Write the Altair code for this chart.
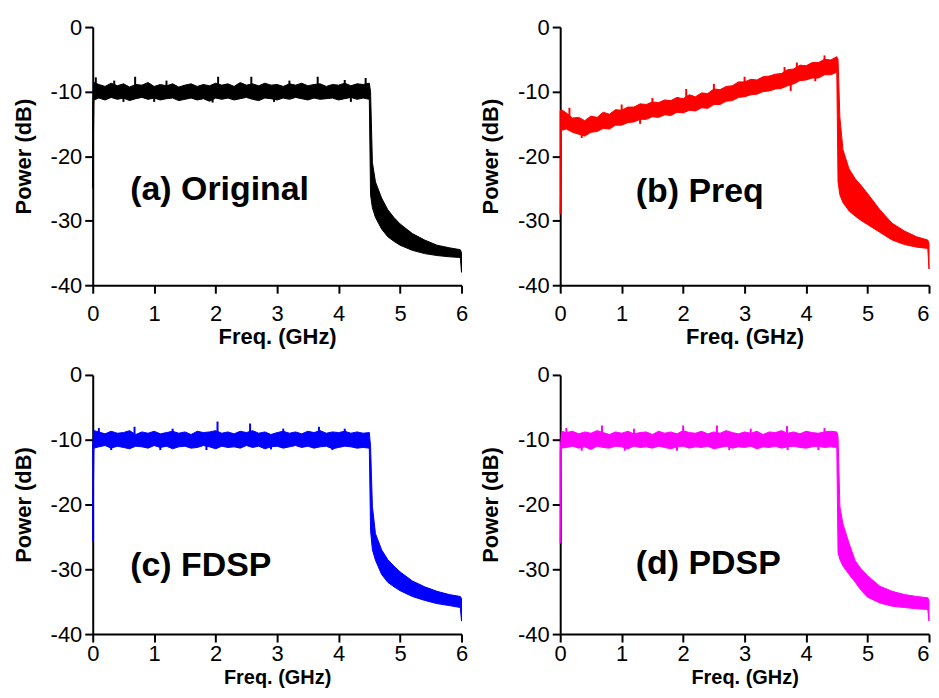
import altair as alt
import pandas as pd

FREQ = [0.0, 0.02,
        0.1, 0.2, 0.3, 0.4, 0.5, 0.6, 0.7, 0.8, 0.9, 1.0,
        1.1, 1.2, 1.3, 1.4, 1.5, 1.6, 1.7, 1.8, 1.9, 2.0,
        2.1, 2.2, 2.3, 2.4, 2.5, 2.6, 2.7, 2.8, 2.9, 3.0,
        3.1, 3.2, 3.3, 3.4, 3.5, 3.6, 3.7, 3.8, 3.9, 4.0,
        4.1, 4.2, 4.3, 4.4,
        4.5, 4.52, 4.55, 4.6, 4.7, 4.8, 4.9, 5.0, 5.2, 5.4, 5.6, 5.8, 5.98, 6.0]

# (a) Original
A_UP = [-12.0, -8.6,
        -8.9, -9.2, -8.7, -9.1, -8.8, -9.3, -8.9, -9.0, -8.6, -9.2,
        -8.9, -9.1, -8.8, -9.3, -9.0, -8.8, -9.2, -8.9, -9.1, -8.7,
        -9.0, -8.8, -9.2, -8.6, -9.0, -8.8, -9.1, -8.7, -9.0, -8.9,
        -9.2, -8.8, -9.0, -8.7, -9.1, -8.9, -8.8, -9.2, -8.9, -9.0,
        -8.7, -9.1, -8.8, -8.9,
        -8.7, -10.0, -21.0, -24.0, -26.5, -28.3, -29.5, -30.5, -32.0, -33.0, -33.8, -34.2, -34.5, -35.0]
A_LO = [-25.0, -11.3,
        -11.0, -11.3, -10.9, -11.2, -11.0, -11.4, -11.1, -10.9, -11.2, -11.0,
        -11.3, -11.1, -11.0, -11.4, -11.2, -11.0, -11.3, -11.1, -11.5, -11.0,
        -11.2, -11.0, -11.3, -11.1, -10.9, -11.2, -11.4, -11.0, -11.1, -11.3,
        -11.0, -11.2, -10.9, -11.1, -11.3, -11.0, -11.2, -11.1, -11.0, -11.3,
        -11.1, -10.9, -11.2, -11.0,
        -11.2, -26.0, -28.0, -29.5, -31.3, -32.5, -33.2, -33.8, -34.6, -35.1, -35.4, -35.6, -35.7, -38.0]
A_SPIKE_F = [0.05, 0.35, 0.69, 1.2, 2.04, 2.58, 3.2, 3.66, 4.1, 4.44, 0.5, 1.0, 1.95, 2.95, 4.2]
A_SPIKE_V = [-7.8, -8.3, -7.7, -8.3, -7.7, -7.7, -8.3, -7.7, -8.2, -7.9, -11.6, -11.6, -11.7, -11.6, -11.6]
A_SPIKE_B = [-10.0, -10.0, -10.0, -10.0, -10.0, -10.0, -10.0, -10.0, -10.0, -10.0, -10.0, -10.0, -10.0, -10.0, -10.0]

# (b) Preq
B_UP = [-13.0, -12.8,
        -13.3, -14.1, -14.0, -14.5, -13.8, -14.0, -13.2, -13.5, -12.8, -12.9,
        -12.4, -12.4, -11.9, -12.0, -11.6, -11.7, -11.3, -11.4, -10.9, -11.1,
        -10.5, -10.8, -10.2, -10.3, -9.6, -9.7, -9.2, -9.1, -8.5, -8.5,
        -8.1, -8.2, -7.7, -7.6, -7.3, -7.2, -6.6, -6.5, -5.9, -6.0,
        -5.5, -5.5, -5.0, -5.1,
        -4.6, -5.0, -14.0, -19.0, -22.0, -23.5, -24.6, -25.8, -28.3, -30.4, -31.6, -32.5, -33.0, -33.5]
B_LO = [-29.0, -16.0,
        -15.8, -16.3, -16.6, -16.9, -16.3, -16.2, -15.7, -15.8, -15.2, -15.2,
        -14.8, -14.7, -14.3, -14.3, -13.9, -14.0, -13.6, -13.7, -13.2, -13.3,
        -12.9, -13.0, -12.5, -12.6, -12.0, -12.0, -11.5, -11.4, -10.9, -10.8,
        -10.5, -10.4, -10.0, -9.9, -9.6, -9.5, -9.1, -8.8, -8.3, -8.2,
        -7.9, -7.9, -7.4, -7.4,
        -7.0, -24.0, -26.0, -27.2, -28.5, -29.3, -30.0, -30.6, -31.8, -33.0, -33.7, -34.1, -34.3, -37.5]
B_SPIKE_F = [0.15, 1.0, 1.5, 2.05, 2.5, 3.0, 3.65, 3.85, 4.3, 0.35, 1.3, 3.75, 4.15]
B_SPIKE_V = [-12.5, -12.0, -11.0, -9.6, -8.8, -7.7, -6.2, -5.5, -4.4, -17.2, -15.0, -9.9, -8.4]
B_SPIKE_B = [-14.6, -14.0, -12.8, -12.0, -10.8, -9.6, -8.2, -7.5, -6.2, -15.3, -13.1, -7.8, -6.7]

# (c) FDSP
C_UP = [-11.0, -8.6,
        -8.8, -9.1, -8.7, -9.0, -8.9, -8.6, -9.2, -8.8, -9.0, -8.7,
        -9.1, -8.9, -8.7, -9.0, -8.8, -9.2, -8.7, -8.9, -8.8, -8.6,
        -9.0, -8.8, -9.1, -8.7, -8.9, -8.6, -9.0, -8.8, -9.2, -8.9,
        -8.7, -9.0, -8.8, -9.1, -8.7, -8.9, -8.6, -9.0, -8.8, -8.9,
        -8.7, -9.0, -8.8, -9.0,
        -8.9, -11.0, -20.3, -24.5, -27.0, -28.5, -29.5, -30.4, -31.8, -32.7, -33.4, -33.9, -34.2, -34.5]
C_LO = [-25.7, -11.3,
        -11.1, -10.9, -11.3, -11.0, -11.2, -11.4, -11.0, -11.1, -11.3, -10.9,
        -11.2, -11.0, -11.4, -11.1, -11.0, -11.3, -11.2, -10.9, -11.1, -11.4,
        -11.0, -11.2, -11.1, -11.3, -10.9, -11.2, -11.0, -11.4, -11.1, -11.0,
        -11.3, -11.1, -10.9, -11.2, -11.0, -11.3, -11.1, -11.0, -11.4, -11.2,
        -11.0, -11.1, -11.3, -11.2,
        -11.3, -24.0, -27.0, -28.6, -30.8, -32.0, -32.7, -33.3, -34.2, -34.8, -35.3, -35.6, -35.9, -38.0]
C_SPIKE_F = [0.1, 0.68, 1.3, 2.03, 2.56, 3.1, 3.68, 4.1, 0.3, 1.1, 1.85, 2.9, 3.9]
C_SPIKE_V = [-8.2, -8.0, -8.3, -7.2, -7.5, -8.3, -8.0, -8.3, -11.6, -11.6, -11.6, -11.5, -11.6]
C_SPIKE_B = [-10.0, -10.0, -10.0, -10.0, -10.0, -10.0, -10.0, -10.0, -10.0, -10.0, -10.0, -10.0, -10.0]

# (d) PDSP
D_UP = [-12.0, -8.7,
        -8.9, -8.7, -9.1, -8.8, -9.0, -8.6, -8.9, -9.2, -8.8, -9.0,
        -8.7, -9.1, -8.9, -8.8, -9.2, -8.7, -9.0, -8.8, -9.1, -8.6,
        -8.9, -9.0, -8.7, -9.1, -8.8, -9.0, -8.6, -8.9, -9.1, -8.8,
        -9.0, -8.7, -9.2, -8.8, -8.9, -8.6, -9.0, -8.8, -9.1, -8.7,
        -8.9, -9.0, -8.8, -8.7,
        -8.8, -9.5, -20.3, -23.0, -26.0, -28.7, -30.0, -31.0, -32.6, -33.4, -33.9, -34.2, -34.4, -34.8]
D_LO = [-26.0, -11.3,
        -11.2, -11.0, -11.3, -11.1, -11.5, -11.0, -11.2, -11.3, -11.0, -11.1,
        -11.4, -11.0, -11.2, -11.1, -11.3, -11.0, -11.2, -11.4, -11.1, -11.0,
        -11.3, -11.1, -11.2, -11.0, -11.4, -11.2, -11.0, -11.3, -11.1, -11.2,
        -11.0, -11.4, -11.1, -11.2, -11.0, -11.3, -11.1, -11.0, -11.2, -11.3,
        -11.1, -11.0, -11.2, -11.1,
        -11.2, -27.4, -28.5, -29.5, -30.8, -32.0, -33.3, -34.3, -35.2, -35.7, -35.9, -36.1, -36.2, -38.0]
D_SPIKE_F = [0.1, 0.68, 1.2, 2.0, 2.55, 3.1, 3.69, 4.3, 0.35, 1.05, 1.9, 2.75, 3.7, 4.2]
D_SPIKE_V = [-8.2, -7.8, -8.3, -7.8, -7.8, -8.3, -7.9, -8.2, -11.7, -11.7, -11.7, -11.6, -11.6, -11.6]
D_SPIKE_B = [-10.0, -10.0, -10.0, -10.0, -10.0, -10.0, -10.0, -10.0, -10.0, -10.0, -10.0, -10.0, -10.0, -10.0]

LABELS = ["(a) Original", "(b) Preq", "(c) FDSP", "(d) PDSP"]
LABEL_X = [0.61, 1.23, 0.61, 1.23]
LABEL_Y = [-25.2, -25.5, -29.5, -29.2]
COLORS = ["#000000", "#ff0000", "#0000ff", "#ff00ff"]

X_TICKS = [0, 0.5, 1, 1.5, 2, 2.5, 3, 3.5, 4, 4.5, 5, 5.5, 6]
Y_TICKS = [-40, -35, -30, -25, -20, -15, -10, -5, 0]

FONT = "Liberation Sans"

xs = alt.Scale(domain=[0, 6], nice=False, zero=False)
ys = alt.Scale(domain=[-40, 0], nice=False, zero=False)

y_axis = alt.Axis(values=Y_TICKS, title="Power (dB)",
                  labelExpr="datum.value % 10 === 0 ? toString(datum.value) : ''",
                  tickSize={"condition": {"test": "datum.value % 10 !== 0", "value": 4}, "value": 8},
                  grid=False, labelPadding=3, titlePadding=15, labelFlush=False)


def x_axis(right, bottom):
    kw = {}
    if right:
        kw["labelAlign"] = {"condition": {"test": "datum.value === 6", "value": "right"}, "value": "center"}
    return alt.Axis(values=X_TICKS, title="Freq. (GHz)",
                    labelExpr="datum.value % 1 === 0 ? toString(datum.value) : ''",
                    tickSize={"condition": {"test": "datum.value % 1 !== 0", "value": 4}, "value": 8},
                    grid=False, labelPadding=2 if bottom else 10, titlePadding=3 if bottom else 2,
                    titleFontSize=20 if bottom else 22,
                    labelFlush=False, **kw)


def panel(i, up, lo, sf, sv, sb):
    color = COLORS[i]
    band = pd.DataFrame({"f": FREQ, "up": up, "lo": lo})
    spikes = pd.DataFrame({"f": sf, "v": sv, "b": sb})
    lab = pd.DataFrame({"x": [LABEL_X[i]], "y": [LABEL_Y[i]], "t": [LABELS[i]]})

    area = alt.Chart(band).mark_area(color=color, stroke=color, strokeWidth=1, opacity=1).encode(
        x=alt.X("f:Q", scale=xs, axis=x_axis(i % 2 == 1, i >= 2)),
        y=alt.Y("lo:Q", scale=ys, axis=y_axis),
        y2="up:Q",
    )
    sp = alt.Chart(spikes).mark_rule(color=color, strokeWidth=2).encode(
        x="f:Q", y="v:Q", y2="b:Q"
    )
    txt = alt.Chart(lab).mark_text(align="left", baseline="middle", font=FONT,
                                   fontSize=34, fontWeight="bold", color="black").encode(
        x="x:Q", y="y:Q", text="t:N"
    )
    return alt.layer(area, sp, txt).properties(width=370, height=259 if i < 2 else 260)


pa = panel(0, A_UP, A_LO, A_SPIKE_F, A_SPIKE_V, A_SPIKE_B)
pb = panel(1, B_UP, B_LO, B_SPIKE_F, B_SPIKE_V, B_SPIKE_B)
pc = panel(2, C_UP, C_LO, C_SPIKE_F, C_SPIKE_V, C_SPIKE_B)
pd_ = panel(3, D_UP, D_LO, D_SPIKE_F, D_SPIKE_V, D_SPIKE_B)

chart = alt.ConcatChart(
    concat=[pa, pb, pc, pd_], columns=2,
    spacing={"row": 90, "column": 99}, bounds="flush",
    padding={"top": 7, "left": 4, "right": 0, "bottom": 0},
).configure_view(stroke=None).configure_axis(
    domainColor="black", domainWidth=2, tickColor="black", tickWidth=2,
    labelFont=FONT, labelFontSize=22, labelColor="black",
    titleFont=FONT, titleFontSize=22, titleFontWeight="bold", titleColor="black",
)

chart.save("out.html", embed_options={"renderer": "svg", "actions": False})
